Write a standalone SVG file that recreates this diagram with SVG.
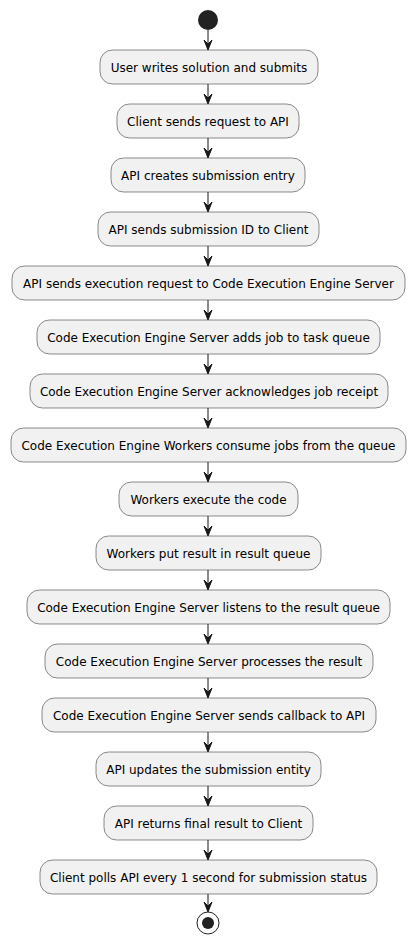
<svg xmlns="http://www.w3.org/2000/svg" width="416" height="945" viewBox="0 0 416 945">
<style>
.b{fill:#F1F1F1;stroke:#181818;stroke-width:0.5}
.t{font-family:"DejaVu Sans",sans-serif;font-size:12px;fill:#000;text-anchor:middle}
.l{stroke:#181818;stroke-width:1;fill:none}
.h{fill:#181818;stroke:#181818;stroke-width:1}
</style>
<rect width="416" height="945" fill="#FFFFFF"/>
<g id="start"><circle cx="208" cy="20" r="10" fill="#222222"/></g>
<g id="n1"><rect class="b" x="100" y="50" width="218" height="34" rx="12.5"/><text class="t" x="209" y="71.5">User writes solution and submits</text></g>
<g id="n2"><rect class="b" x="117" y="104" width="182" height="34" rx="12.5"/><text class="t" x="208" y="125.5">Client sends request to API</text></g>
<g id="n3"><rect class="b" x="111" y="158" width="194" height="34" rx="12.5"/><text class="t" x="208" y="179.5">API creates submission entry</text></g>
<g id="n4"><rect class="b" x="98" y="212" width="221" height="34" rx="12.5"/><text class="t" x="208.5" y="233.5">API sends submission ID to Client</text></g>
<g id="n5"><rect class="b" x="12" y="266" width="393" height="34" rx="12.5"/><text class="t" x="208.5" y="287.5">API sends execution request to Code Execution Engine Server</text></g>
<g id="n6"><rect class="b" x="37" y="320" width="343" height="34" rx="12.5"/><text class="t" x="208.5" y="341.5">Code Execution Engine Server adds job to task queue</text></g>
<g id="n7"><rect class="b" x="30" y="374" width="358" height="34" rx="12.5"/><text class="t" x="209" y="395.5">Code Execution Engine Server acknowledges job receipt</text></g>
<g id="n8"><rect class="b" x="11" y="428" width="395" height="34" rx="12.5"/><text class="t" x="208.5" y="449.5">Code Execution Engine Workers consume jobs from the queue</text></g>
<g id="n9"><rect class="b" x="119" y="482" width="179" height="34" rx="12.5"/><text class="t" x="208.5" y="503.5">Workers execute the code</text></g>
<g id="n10"><rect class="b" x="96" y="536" width="225" height="34" rx="12.5"/><text class="t" x="208.5" y="557.5">Workers put result in result queue</text></g>
<g id="n11"><rect class="b" x="27" y="590" width="363" height="34" rx="12.5"/><text class="t" x="208.5" y="611.5">Code Execution Engine Server listens to the result queue</text></g>
<g id="n12"><rect class="b" x="45" y="644" width="328" height="34" rx="12.5"/><text class="t" x="209" y="665.5">Code Execution Engine Server processes the result</text></g>
<g id="n13"><rect class="b" x="42" y="698" width="334" height="34" rx="12.5"/><text class="t" x="209" y="719.5">Code Execution Engine Server sends callback to API</text></g>
<g id="n14"><rect class="b" x="96" y="752" width="225" height="34" rx="12.5"/><text class="t" x="208.5" y="773.5">API updates the submission entity</text></g>
<g id="n15"><rect class="b" x="104" y="806" width="209" height="34" rx="12.5"/><text class="t" x="208.5" y="827.5">API returns final result to Client</text></g>
<g id="n16"><rect class="b" x="40" y="860" width="337" height="34" rx="12.5"/><text class="t" x="208.5" y="881.5">Client polls API every 1 second for submission status</text></g>
<g id="end"><circle cx="208" cy="923" r="11" fill="none" stroke="#222222" stroke-width="1"/><circle cx="208" cy="923" r="6" fill="#222222"/></g>
<g id="connectors">
<line class="l" x1="208" y1="30" x2="208" y2="49"/><polygon class="h" points="204,40 208,50 212,40 208,44"/>
<line class="l" x1="208" y1="84" x2="208" y2="103"/><polygon class="h" points="204,94 208,104 212,94 208,98"/>
<line class="l" x1="208" y1="138" x2="208" y2="157"/><polygon class="h" points="204,148 208,158 212,148 208,152"/>
<line class="l" x1="208" y1="192" x2="208" y2="211"/><polygon class="h" points="204,202 208,212 212,202 208,206"/>
<line class="l" x1="208" y1="246" x2="208" y2="265"/><polygon class="h" points="204,256 208,266 212,256 208,260"/>
<line class="l" x1="208" y1="300" x2="208" y2="319"/><polygon class="h" points="204,310 208,320 212,310 208,314"/>
<line class="l" x1="208" y1="354" x2="208" y2="373"/><polygon class="h" points="204,364 208,374 212,364 208,368"/>
<line class="l" x1="208" y1="408" x2="208" y2="427"/><polygon class="h" points="204,418 208,428 212,418 208,422"/>
<line class="l" x1="208" y1="462" x2="208" y2="481"/><polygon class="h" points="204,472 208,482 212,472 208,476"/>
<line class="l" x1="208" y1="516" x2="208" y2="535"/><polygon class="h" points="204,526 208,536 212,526 208,530"/>
<line class="l" x1="208" y1="570" x2="208" y2="589"/><polygon class="h" points="204,580 208,590 212,580 208,584"/>
<line class="l" x1="208" y1="624" x2="208" y2="643"/><polygon class="h" points="204,634 208,644 212,634 208,638"/>
<line class="l" x1="208" y1="678" x2="208" y2="697"/><polygon class="h" points="204,688 208,698 212,688 208,692"/>
<line class="l" x1="208" y1="732" x2="208" y2="751"/><polygon class="h" points="204,742 208,752 212,742 208,746"/>
<line class="l" x1="208" y1="786" x2="208" y2="805"/><polygon class="h" points="204,796 208,806 212,796 208,800"/>
<line class="l" x1="208" y1="840" x2="208" y2="859"/><polygon class="h" points="204,850 208,860 212,850 208,854"/>
<line class="l" x1="208" y1="894" x2="208" y2="911"/><polygon class="h" points="204,902 208,912 212,902 208,906"/>
</g>
</svg>
